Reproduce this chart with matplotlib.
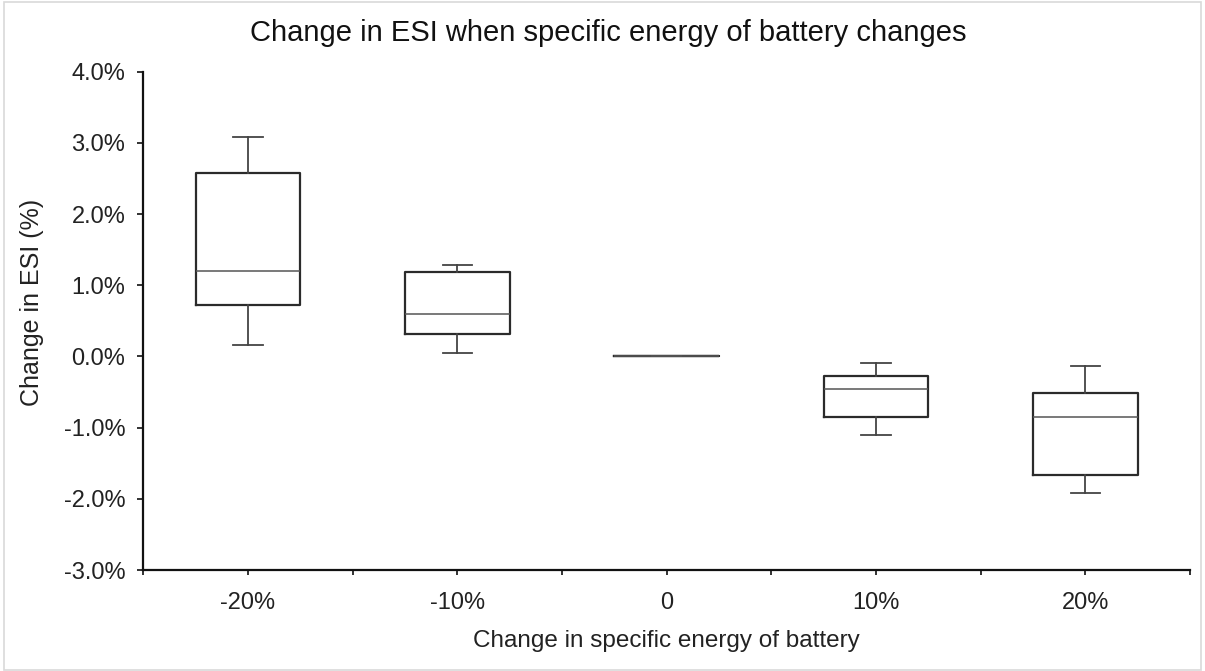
import matplotlib.pyplot as plt
import matplotlib.ticker as ticker
from matplotlib.patches import Rectangle

plt.rcParams['font.family'] = ['Liberation Sans', 'DejaVu Sans']

# Data (values in %)
categories = ["-20%", "-10%", "0", "10%", "20%"]
whisker_low = [0.16, 0.05, 0.0, -1.11, -1.92]
q1 = [0.72, 0.31, 0.0, -0.85, -1.67]
median = [1.20, 0.59, 0.0, -0.46, -0.85]
q3 = [2.58, 1.18, 0.0, -0.28, -0.51]
whisker_high = [3.09, 1.29, 0.0, -0.09, -0.14]

stats = []
for i, name in enumerate(categories):
    stats.append({
        "label": name,
        "whislo": whisker_low[i],
        "q1": q1[i],
        "med": median[i],
        "q3": q3[i],
        "whishi": whisker_high[i],
        "fliers": [],
    })

fig = plt.figure(figsize=(12.05, 6.71), dpi=100)
ax = fig.add_axes([0.1190, 0.1505, 0.9876 - 0.1190, 0.8931 - 0.1505])

positions = list(range(1, len(categories) + 1))
ax.bxp(stats, positions=positions, widths=0.5, showfliers=False,
       boxprops=dict(color="#2b2b2b", linewidth=1.6),
       medianprops=dict(color="#555555", linewidth=1.1),
       whiskerprops=dict(color="#444444", linewidth=1.3),
       capprops=dict(color="#444444", linewidth=1.3),
       capwidths=0.14)

ax.set_xlim(0.5, len(categories) + 0.5)
ax.set_ylim(-3.0, 4.0)
ax.yaxis.set_major_locator(ticker.MultipleLocator(1.0))
ax.yaxis.set_major_formatter(ticker.FuncFormatter(lambda v, _: f"{v:.1f}%"))

ax.set_xticks(positions)
ax.set_xticklabels(categories)
ax.set_xticks([p - 0.5 for p in positions] + [positions[-1] + 0.5], minor=True)

ax.tick_params(axis="y", direction="out", length=4.5, width=1.3, colors="#222222",
               labelsize=17, pad=8.5)
ax.tick_params(axis="x", which="both", direction="out", length=3.5, width=1.3,
               colors="#222222", labelsize=17, pad=12)

for side in ["top", "right"]:
    ax.spines[side].set_visible(False)
for side in ["left", "bottom"]:
    ax.spines[side].set_linewidth(1.6)
    ax.spines[side].set_color("#111111")

fig.text(0.505, 1 - 33 / 671, "Change in ESI when specific energy of battery changes",
         fontsize=21, color="#111111", ha="center", va="center")

ax.set_xlabel("Change in specific energy of battery", fontsize=17.5, color="#222222")
ax.xaxis.label.set_va("center")
ax.xaxis.set_label_coords(0.5, (570 - 641) / 498.3)

ax.set_ylabel("Change in ESI (%)", fontsize=18, color="#222222")
ax.yaxis.label.set_va("center")
ax.yaxis.set_label_coords((32 - 143.4) / 1046, (570 - 302) / 498.3)

# light chart border like the Excel frame
fig.patches.append(Rectangle((0.003, 0.002), 0.994, 0.995, transform=fig.transFigure,
                             fill=False, edgecolor="#d9d9d9", linewidth=1.2))

fig.savefig("out.png", dpi=100)
